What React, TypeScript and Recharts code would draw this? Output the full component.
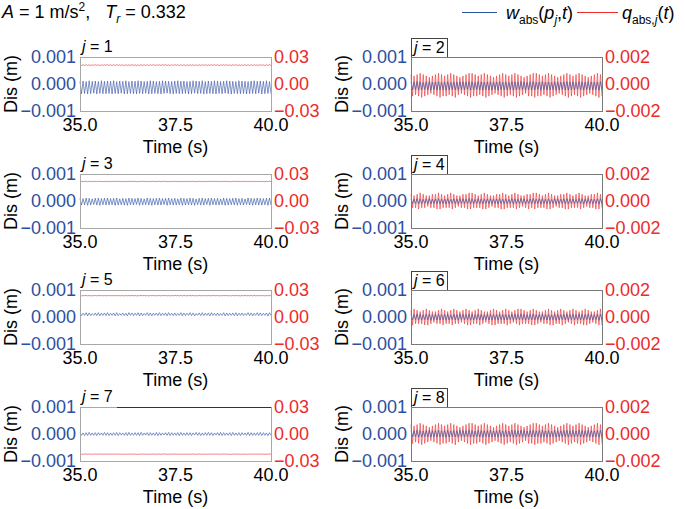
import React from 'react';
import { LineChart, Line, XAxis, YAxis } from 'recharts';

// sample times (s)
const time = [
  35.00, 35.04, 35.08, 35.12, 35.16, 35.20, 35.24, 35.28, 35.32, 35.36, 35.40, 35.44, 35.48, 35.52, 35.56, 35.60, 35.64, 35.68, 35.72, 35.76, 35.80, 35.84, 35.88, 35.92, 35.96,
  36.00, 36.04, 36.08, 36.12, 36.16, 36.20, 36.24, 36.28, 36.32, 36.36, 36.40, 36.44, 36.48, 36.52, 36.56, 36.60, 36.64, 36.68, 36.72, 36.76, 36.80, 36.84, 36.88, 36.92, 36.96,
  37.00, 37.04, 37.08, 37.12, 37.16, 37.20, 37.24, 37.28, 37.32, 37.36, 37.40, 37.44, 37.48, 37.52, 37.56, 37.60, 37.64, 37.68, 37.72, 37.76, 37.80, 37.84, 37.88, 37.92, 37.96,
  38.00, 38.04, 38.08, 38.12, 38.16, 38.20, 38.24, 38.28, 38.32, 38.36, 38.40, 38.44, 38.48, 38.52, 38.56, 38.60, 38.64, 38.68, 38.72, 38.76, 38.80, 38.84, 38.88, 38.92, 38.96,
  39.00, 39.04, 39.08, 39.12, 39.16, 39.20, 39.24, 39.28, 39.32, 39.36, 39.40, 39.44, 39.48, 39.52, 39.56, 39.60, 39.64, 39.68, 39.72, 39.76, 39.80, 39.84, 39.88, 39.92, 39.96,
  40.00
];

const xTicks = [35, 37.5, 40];
const xTickLabels = ['35.0', '37.5', '40.0'];

// w in 1e-5 m
const wTicks = [-100, 0, 100];
const wTickLabels = ['\u22120.001', '0.000', '0.001'];
// q in 1e-4
const qTicksOdd = [-300, 0, 300];
const qTickLabelsOdd = ['\u22120.03', '0.00', '0.03'];
const qTicksEven = [-20, 0, 20];
const qTickLabelsEven = ['\u22120.002', '0.000', '0.002'];

const w1 = [
  10,-36,11,-35,9,-37,12,-36,10,-34,11,-37,9,-35,12,-36,10,-36,11,-35,
  10,-37,12,-35,9,-36,11,-34,10,-37,12,-36,9,-35,11,-36,10,-37,12,-35,
  11,-36,9,-34,10,-37,12,-36,11,-35,9,-36,10,-37,12,-35,11,-34,10,-36,
  9,-37,11,-35,12,-36,10,-36,11,-35,9,-37,10,-36,12,-34,11,-36,10,-35,
  12,-37,9,-36,11,-35,10,-36,12,-37,11,-35,9,-36,10,-34,12,-36,11,-37,
  10,-35,9,-36,12,-36,11,-35,10,-37,9,-36,11,-35,12,-36,10,-34,11,-37,
  10,-36,12,-35,9,-36
];
const q1 = [
  214,206,213,207,215,205,214,206,213,206,215,207,214,205,213,206,214,207,215,206,
  213,205,214,206,215,207,213,206,214,205,214,206,213,207,215,206,214,205,213,206,
  215,207,214,206,213,205,214,207,215,206,213,206,214,205,215,207,214,206,213,205,
  214,206,215,207,213,206,214,205,215,206,213,207,214,206,215,205,213,206,214,207,
  213,206,215,205,214,206,213,207,215,206,214,205,213,206,215,207,214,206,213,205,
  215,206,214,207,213,205,214,206,215,206,213,207,214,205,215,206,213,206,214,207,
  213,205,214,206,215,206
];
const w2 = [
  8,-22,7,-21,9,-23,8,-22,6,-20,8,-22,9,-23,7,-21,8,-22,9,-22,
  7,-21,8,-23,9,-22,6,-21,8,-22,7,-23,9,-21,8,-22,7,-20,9,-23,
  8,-22,6,-21,9,-22,8,-23,7,-21,8,-22,9,-22,7,-20,8,-23,9,-21,
  7,-22,8,-22,6,-21,9,-23,8,-22,7,-21,9,-22,8,-23,6,-21,8,-22,
  9,-22,7,-20,8,-23,9,-21,7,-22,8,-22,6,-21,9,-23,8,-22,7,-21,
  8,-22,9,-23,7,-21,8,-22,6,-20,9,-22,8,-23,7,-21,9,-22,8,-22,
  7,-21,8,-23,9,-22
];
const q2 = [
  7,-9,6,-8,7,-9,8,-10,7,-9,6,-8,5,-7,6,-8,7,-9,8,-10,
  7,-9,6,-9,7,-8,8,-9,7,-10,6,-8,5,-7,6,-8,7,-9,8,-10,
  8,-9,7,-9,6,-8,7,-9,8,-10,7,-9,6,-8,5,-7,6,-8,7,-9,
  8,-10,7,-9,6,-8,7,-9,8,-10,7,-9,6,-8,5,-7,6,-9,7,-9,
  8,-10,8,-9,7,-9,6,-8,7,-9,8,-10,7,-9,6,-8,5,-7,6,-8,
  7,-9,8,-10,7,-9,6,-8,7,-9,8,-10,7,-9,6,-8,5,-7,6,-8,
  7,-9,8,-10,7,-9
];
const w3 = [
  10,-15,9,-14,11,-16,10,-15,8,-13,10,-15,11,-16,9,-14,10,-15,11,-15,
  9,-14,10,-16,11,-15,8,-14,10,-15,9,-16,11,-14,10,-15,9,-13,11,-16,
  10,-15,8,-14,11,-15,10,-16,9,-14,10,-15,11,-15,9,-13,10,-16,11,-14,
  9,-15,10,-15,8,-14,11,-16,10,-15,9,-14,11,-15,10,-16,8,-14,10,-15,
  11,-15,9,-13,10,-16,11,-14,9,-15,10,-15,8,-14,11,-16,10,-15,9,-14,
  10,-15,11,-16,9,-14,10,-15,8,-13,11,-15,10,-16,9,-14,11,-15,10,-15,
  9,-14,10,-16,11,-15
];
const q3 = [
  219,215,218,216,220,215,219,214,218,216,219,215,220,216,218,215,219,214,219,216,
  218,215,219,215,220,216,218,215,219,214,219,215,218,216,220,215,219,214,218,215,
  220,216,219,215,218,214,219,216,220,215,218,215,219,214,220,216,219,215,218,214,
  219,215,220,216,218,215,219,214,220,215,218,216,219,215,220,214,218,215,219,216,
  218,215,220,214,219,215,218,216,220,215,219,214,218,215,220,216,219,215,218,214,
  220,215,219,216,218,214,219,215,220,215,218,216,219,214,220,215,218,215,219,216,
  218,214,219,215,220,215
];
const w4 = [
  8,-10,7,-9,9,-11,8,-10,6,-9,8,-10,9,-11,7,-9,8,-10,9,-10,
  7,-9,8,-11,9,-10,6,-9,8,-10,7,-11,9,-9,8,-10,7,-9,9,-11,
  8,-10,6,-9,9,-10,8,-11,7,-9,8,-10,9,-10,7,-9,8,-11,9,-9,
  7,-10,8,-10,6,-9,9,-11,8,-10,7,-9,9,-10,8,-11,6,-9,8,-10,
  9,-10,7,-9,8,-11,9,-9,7,-10,8,-10,6,-9,9,-11,8,-10,7,-9,
  8,-10,9,-11,7,-9,8,-10,6,-9,9,-10,8,-11,7,-9,9,-10,8,-10,
  7,-9,8,-11,9,-10
];
const q4 = [
  5,-5,4,-5,5,-6,6,-5,5,-5,4,-4,4,-5,5,-5,5,-6,6,-6,
  5,-5,4,-5,5,-5,6,-6,5,-5,4,-4,4,-5,5,-5,5,-6,6,-6,
  6,-5,5,-5,4,-5,5,-6,6,-6,5,-5,4,-4,4,-5,5,-5,5,-6,
  6,-6,5,-5,4,-5,5,-5,6,-6,5,-5,4,-4,4,-5,5,-6,5,-5,
  6,-6,6,-5,5,-5,4,-5,5,-6,6,-6,5,-5,4,-4,4,-5,5,-5,
  5,-6,6,-6,5,-5,4,-5,5,-5,6,-6,5,-5,4,-4,4,-5,5,-5,
  5,-6,6,-6,5,-5
];
const w5 = [
  15,5,14,6,16,4,15,5,13,6,15,5,16,4,14,6,15,5,16,5,
  14,6,15,4,16,5,13,6,15,5,14,4,16,6,15,5,14,6,16,4,
  15,5,13,6,16,5,15,4,14,6,15,5,16,5,14,6,15,4,16,6,
  14,5,15,5,13,6,16,4,15,5,14,6,16,5,15,4,13,6,15,5,
  16,5,14,6,15,4,16,6,14,5,15,5,13,6,16,4,15,5,14,6,
  15,5,16,4,14,6,15,5,13,6,16,5,15,4,14,6,16,5,15,5,
  14,6,15,4,16,5
];
const q5 = [
  239,235,238,236,240,235,239,234,238,236,239,235,240,236,238,235,239,234,239,236,
  238,235,239,235,240,236,238,235,239,234,239,235,238,236,240,235,239,234,238,235,
  240,236,239,235,238,234,239,236,240,235,238,235,239,234,240,236,239,235,238,234,
  239,235,240,236,238,235,239,234,240,235,238,236,239,235,240,234,238,235,239,236,
  238,235,240,234,239,235,238,236,240,235,239,234,238,235,240,236,239,235,238,234,
  240,235,239,236,238,234,239,235,240,235,238,236,239,234,240,235,238,235,239,236,
  238,234,239,235,240,235
];
const w6 = [
  10,-11,9,-10,11,-12,10,-11,8,-10,10,-11,11,-12,9,-10,10,-11,11,-11,
  9,-10,10,-12,11,-11,8,-10,10,-11,9,-12,11,-10,10,-11,9,-10,11,-12,
  10,-11,8,-10,11,-11,10,-12,9,-10,10,-11,11,-11,9,-10,10,-12,11,-10,
  9,-11,10,-11,8,-10,11,-12,10,-11,9,-10,11,-11,10,-12,8,-10,10,-11,
  11,-11,9,-10,10,-12,11,-10,9,-11,10,-11,8,-10,11,-12,10,-11,9,-10,
  10,-11,11,-12,9,-10,10,-11,8,-10,11,-11,10,-12,9,-10,11,-11,10,-11,
  9,-10,10,-12,11,-11
];
const q6 = [
  5,-6,6,-5,5,-5,4,-5,5,-6,6,-6,5,-5,4,-4,4,-5,5,-5,
  6,-6,5,-5,4,-5,5,-6,6,-5,5,-5,4,-4,5,-5,6,-6,5,-6,
  4,-5,5,-5,6,-6,5,-5,4,-4,4,-5,5,-6,6,-6,5,-5,4,-5,
  5,-5,6,-6,5,-5,4,-4,5,-5,6,-6,6,-5,5,-5,4,-5,5,-6,
  6,-6,5,-5,4,-4,4,-5,5,-5,6,-6,5,-6,4,-5,5,-5,6,-6,
  5,-5,4,-4,5,-5,6,-6,5,-5,4,-5,5,-6,6,-6,5,-5,4,-4,
  4,-5,5,-6,6,-6
];
const w7 = [
  5,-5,4,-6,5,-5,6,-5,4,-5,5,-6,5,-4,4,-5,6,-5,5,-6,
  4,-5,5,-5,6,-6,5,-4,4,-5,5,-6,6,-5,4,-5,5,-5,5,-6,
  6,-5,4,-4,5,-6,5,-5,4,-5,6,-6,5,-5,4,-4,5,-5,6,-6,
  5,-5,4,-5,5,-6,6,-5,4,-5,5,-5,5,-6,4,-4,6,-5,5,-6,
  4,-5,5,-5,6,-5,5,-6,4,-4,5,-5,6,-6,5,-5,4,-5,5,-6,
  6,-5,4,-5,5,-6,5,-4,4,-5,6,-6,5,-5,4,-5,5,-5,6,-6,
  5,-5,4,-6,5,-5
];
const q7 = [
  -222,-226,-223,-225,-221,-226,-222,-227,-223,-225,-222,-226,-221,-225,-223,-226,-222,-227,-222,-225,
  -223,-226,-222,-226,-221,-225,-223,-226,-222,-227,-222,-226,-223,-225,-221,-226,-222,-227,-223,-226,
  -221,-225,-222,-226,-223,-227,-222,-225,-221,-226,-223,-226,-222,-227,-221,-225,-222,-226,-223,-227,
  -222,-226,-221,-225,-223,-226,-222,-227,-221,-226,-223,-225,-222,-226,-221,-227,-223,-226,-222,-225,
  -223,-226,-221,-227,-222,-226,-223,-225,-221,-226,-222,-227,-223,-226,-221,-225,-222,-226,-223,-227,
  -221,-226,-222,-225,-223,-227,-222,-226,-221,-226,-223,-225,-222,-227,-221,-226,-223,-226,-222,-225,
  -223,-227,-222,-226,-221,-226
];
const w8 = [
  13,-11,12,-10,14,-12,13,-11,11,-10,13,-11,14,-12,12,-10,13,-11,14,-11,
  12,-10,13,-12,14,-11,11,-10,13,-11,12,-12,14,-10,13,-11,12,-10,14,-12,
  13,-11,11,-10,14,-11,13,-12,12,-10,13,-11,14,-11,12,-10,13,-12,14,-10,
  12,-11,13,-11,11,-10,14,-12,13,-11,12,-10,14,-11,13,-12,11,-10,13,-11,
  14,-11,12,-10,13,-12,14,-10,12,-11,13,-11,11,-10,14,-12,13,-11,12,-10,
  13,-11,14,-12,12,-10,13,-11,11,-10,14,-11,13,-12,12,-10,14,-11,13,-11,
  12,-10,13,-12,14,-11
];
const q8 = [
  7,-7,6,-6,7,-7,8,-8,7,-7,6,-6,5,-5,6,-6,7,-7,8,-8,
  7,-7,6,-7,7,-6,8,-7,7,-8,6,-6,5,-5,6,-6,7,-7,8,-8,
  8,-7,7,-7,6,-6,7,-7,8,-8,7,-7,6,-6,5,-5,6,-6,7,-7,
  8,-8,7,-7,6,-6,7,-7,8,-8,7,-7,6,-6,5,-5,6,-7,7,-7,
  8,-8,8,-7,7,-7,6,-6,7,-7,8,-8,7,-7,6,-6,5,-5,6,-6,
  7,-7,8,-8,7,-7,6,-6,7,-7,8,-8,7,-7,6,-6,5,-5,6,-6,
  7,-7,8,-8,7,-7
];

const panelW = [w1, w2, w3, w4, w5, w6, w7, w8];
const panelQ = [q1, q2, q3, q4, q5, q6, q7, q8];

const BLUE = '#2d4fa3';
const RED = '#ec2b2b';
const FONT = '"Liberation Sans", Arial, Helvetica, sans-serif';

const COL_LEFT = [80, 411];
const ROW_TOP = [57, 174, 290, 407];
const PLOT_W = 191;
const PLOT_H = 54;
const AXIS_L = 75;
const AXIS_R = 70;
const M_TOP = 10;
const X_H = 40;

function Panel({ idx }: { idx: number }) {
  const col = idx % 2;
  const row = Math.floor(idx / 2);
  const left = COL_LEFT[col];
  const top = ROW_TOP[row];
  const even = col === 1;
  const qTicks = even ? qTicksEven : qTicksOdd;
  const qLabels = even ? qTickLabelsEven : qTickLabelsOdd;
  const data = time.map((t, i) => ({ t, w: panelW[idx][i], q: panelQ[idx][i] }));

  return (
    <>
      <div style={{ position: 'absolute', left: left - AXIS_L, top: top - M_TOP }}>
        <LineChart
          width={AXIS_L + PLOT_W + AXIS_R}
          height={M_TOP + PLOT_H + X_H}
          data={data}
          margin={{ top: M_TOP, right: 0, bottom: 0, left: 0 }}
        >
          <XAxis
            dataKey="t"
            type="number"
            domain={[35, 40]}
            ticks={xTicks}
            interval={0}
            tickFormatter={(v) => xTickLabels[xTicks.indexOf(v)]}
            tickLine={false}
            axisLine={false}
            tickSize={0}
            tickMargin={7}
            height={X_H}
            tick={{ fill: '#000', fontSize: 18 }}
          />
          <YAxis
            yAxisId="w"
            orientation="left"
            width={AXIS_L}
            domain={[wTicks[0], wTicks[2]]}
            ticks={wTicks}
            interval={0}
            tickFormatter={(v) => wTickLabels[wTicks.indexOf(v)]}
            tickLine={false}
            axisLine={false}
            tickSize={0}
            tickMargin={4}
            tick={{ fill: BLUE, fontSize: 18 }}
          />
          <YAxis
            yAxisId="q"
            orientation="right"
            width={AXIS_R}
            domain={[qTicks[0], qTicks[2]]}
            ticks={qTicks}
            interval={0}
            tickFormatter={(v) => qLabels[qTicks.indexOf(v)]}
            tickLine={false}
            axisLine={false}
            tickSize={0}
            tickMargin={3}
            tick={{ fill: RED, fontSize: 18 }}
          />
          <Line yAxisId="q" dataKey="q" stroke={RED} strokeWidth={0.6} dot={false} isAnimationActive={false} />
          <Line yAxisId="w" dataKey="w" stroke={BLUE} strokeWidth={0.6} dot={false} isAnimationActive={false} />
        </LineChart>
      </div>

      {/* plot frame */}
      <div
        style={{
          position: 'absolute',
          left,
          top,
          width: PLOT_W + 1,
          height: PLOT_H + 1,
          boxSizing: 'border-box',
          border: `1px solid ${even ? '#7a7a7a' : '#a8a8a8'}`,
        }}
      />
      {idx === 6 && (
        <div style={{ position: 'absolute', left: 117, top, width: left + PLOT_W - 117, height: 1, background: '#333' }} />
      )}

      {/* panel tag */}
      <div
        style={{
          position: 'absolute',
          left,
          top: top - 19,
          height: 19,
          width: even ? 37 : 'auto',
          boxSizing: 'border-box',
          border: even ? '1px solid #444' : 'none',
          borderBottom: 'none',
          paddingLeft: 2,
          fontSize: 16,
          lineHeight: '18px',
          whiteSpace: 'nowrap',
          background: even ? '#fff' : 'transparent',
        }}
      >
        <i>j</i> = {idx + 1}
      </div>

      {/* axis titles */}
      <div
        style={{
          position: 'absolute',
          left: left - 69,
          top: top + PLOT_H / 2,
          transform: 'translate(-50%, -50%) rotate(-90deg)',
          fontSize: 18,
          whiteSpace: 'nowrap',
        }}
      >
        Dis (m)
      </div>
      <div
        style={{
          position: 'absolute',
          left: left + PLOT_W / 2,
          top: top + PLOT_H + 26,
          transform: 'translateX(-50%)',
          fontSize: 18,
          lineHeight: '20px',
          whiteSpace: 'nowrap',
        }}
      >
        Time (s)
      </div>
    </>
  );
}

export default function App() {
  return (
    <div
      style={{
        position: 'absolute',
        left: 0,
        top: 0,
        width: 685,
        height: 509,
        background: '#fff',
        fontFamily: FONT,
        color: '#000',
        overflow: 'hidden',
      }}
    >
      <div style={{ position: 'absolute', left: 2, top: 2, fontSize: 18, lineHeight: '21px', whiteSpace: 'nowrap' }}>
        <i>A</i> = 1 m/s<sup style={{ fontSize: 12, lineHeight: 0 }}>2</sup>,&nbsp;&nbsp;&nbsp;<i>T</i>
        <sub style={{ fontSize: 12, lineHeight: 0 }}><i>r</i></sub> = 0.332
      </div>

      {/* legend */}
      <div style={{ position: 'absolute', left: 462, top: 12, width: 35, height: 1, background: BLUE }} />
      <div style={{ position: 'absolute', left: 506, top: 3, fontSize: 18, lineHeight: '20px', whiteSpace: 'nowrap' }}>
        <i>w</i>
        <sub style={{ fontSize: 12, lineHeight: 0 }}>abs</sub>(<i>p</i>
        <sub style={{ fontSize: 12, lineHeight: 0 }}><i>j</i></sub>,<i>t</i>)
      </div>
      <div style={{ position: 'absolute', left: 577, top: 12, width: 41, height: 1, background: RED }} />
      <div style={{ position: 'absolute', left: 622, top: 3, fontSize: 18, lineHeight: '20px', whiteSpace: 'nowrap' }}>
        <i>q</i>
        <sub style={{ fontSize: 12, lineHeight: 0 }}>
          abs,<i>j</i>
        </sub>
        (<i>t</i>)
      </div>

      {[0, 1, 2, 3, 4, 5, 6, 7].map((i) => (
        <Panel key={i} idx={i} />
      ))}
    </div>
  );
}
